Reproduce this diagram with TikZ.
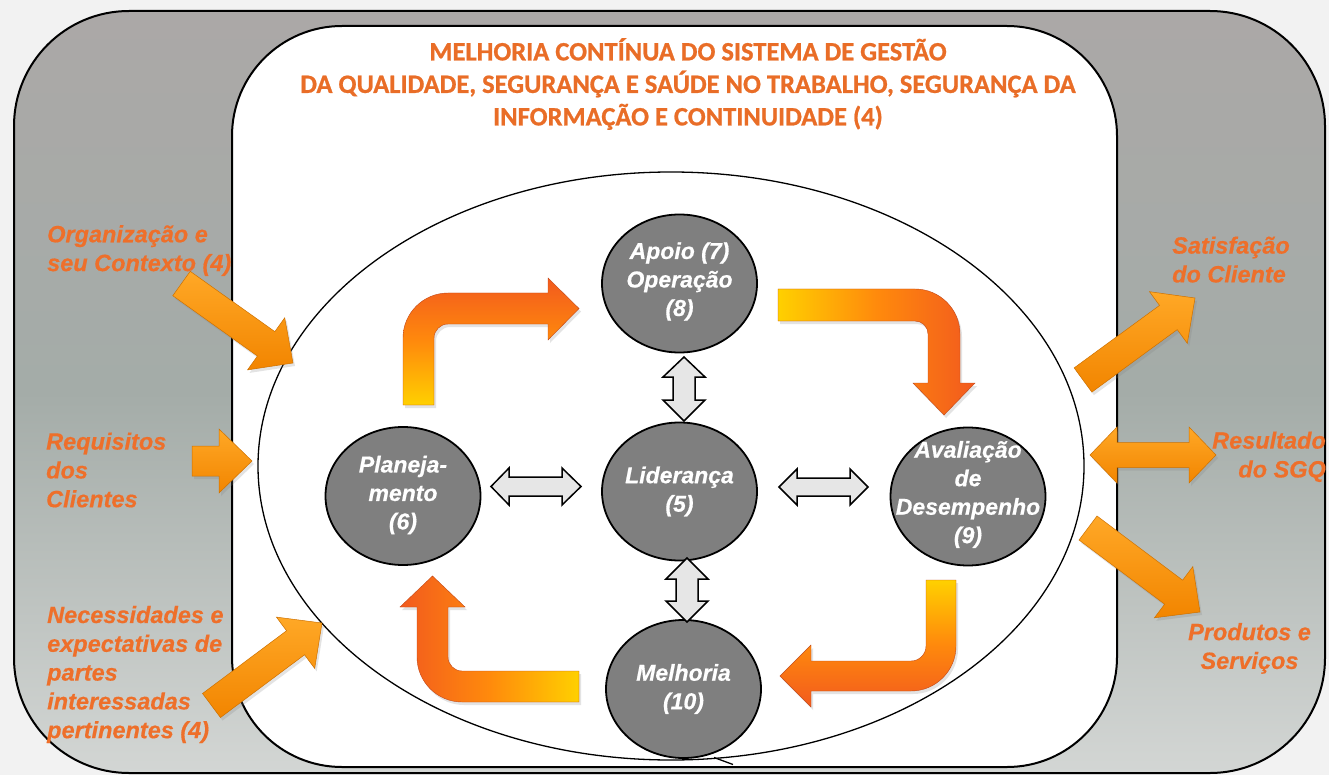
\documentclass[tikz,border=0pt]{standalone}
\usepackage{fontspec}
\setmainfont{Liberation Sans}
\newfontfamily\ttlfont{Carlito Bold}[FakeBold=0.8]
\newfontfamily\labfont{Liberation Sans Bold Italic}[FakeBold=0.5]
\usetikzlibrary{shapes.geometric,shadows,calc}
\definecolor{bgc}{HTML}{F2F2F2}
\definecolor{frTop}{HTML}{ABA8A7}
\definecolor{frMid}{HTML}{A4ACA8}
\definecolor{frBot}{HTML}{D3D6D4}
\definecolor{lab}{HTML}{EE6F2A}
\definecolor{ttl}{HTML}{E96D27}
\definecolor{bub}{HTML}{7F7F7F}
\definecolor{byel}{HTML}{FFD000}
\definecolor{borg}{HTML}{FF8A0C}
\definecolor{bred}{HTML}{F25A1E}
\definecolor{sorgT}{HTML}{FFA826}
\definecolor{sorgB}{HTML}{F28500}
\definecolor{gar}{HTML}{E6E6E6}
\tikzset{
  bubble/.style={ellipse, draw=black, line width=1.8pt, fill=bub, minimum width=155pt, minimum height=138pt, inner sep=0pt},
  bubtext/.style={text=white, font=\labfont\fontsize{23}{28.5}\selectfont, align=center, inner sep=0pt},
  lbl/.style={text=lab, font=\labfont\fontsize{23.5}{28.8}\selectfont, inner sep=0pt},
  grayarr/.style={fill=gar, draw=black, line width=1.5pt, line join=miter},
  shad/.style={drop shadow={opacity=0.22, shadow xshift=2pt, shadow yshift=-3pt}},
  orangearr/.style={shad, top color=sorgT, bottom color=sorgB, draw=sorgB!85!black, line width=0.5pt, line join=miter},
  bentarr/.style={shad, draw=bred!80!black, line width=0.4pt, line join=miter},
}
\newcommand\blockarrow[2]{%
  \shade[orangearr] let \p1=(#1), \p2=(#2), \n1={atan2(\y2-\y1,\x2-\x1)}, \n2={veclen(\x2-\x1,\y2-\y1)} in
   [shift={(\p1)}, rotate=\n1] (0,-15) -- (\n2-33,-15) -- (\n2-33,-32) -- (\n2,0) -- (\n2-33,32) -- (\n2-33,15) -- (0,15) -- cycle;}
\begin{document}
\begin{tikzpicture}[x=1pt,y=-1pt]
\useasboundingbox (0,0) rectangle (1329,775);
\fill[bgc] (0,0) rectangle (1329,775);
% outer frame
\shade[top color=frTop, bottom color=frBot, middle color=frMid, draw=black, line width=2pt, rounded corners=115pt] (14,11) rectangle (1325,773);
% inner white frame
\draw[fill=white, line width=2pt, rounded corners=110pt] (232,26) rectangle (1117,767);
% title
\node[font=\ttlfont\fontsize{26.5}{32.5}\selectfont, text=ttl, align=center, inner sep=0pt] (title) at (688,84)
 {MELHORIA CONTÍNUA DO SISTEMA DE GESTÃO\\DA QUALIDADE, SEGURANÇA E SAÚDE NO TRABALHO, SEGURANÇA DA\\INFORMAÇÃO E CONTINUIDADE (4)};
% big ellipse
\draw[line width=1.3pt] (671,466) ellipse [x radius=413, y radius=294];
\coordinate (etip) at (714,757.5);
\coordinate (earm) at (733,764.5);
\draw[line width=1.3pt] (etip) -- (earm);
% bubbles
\node[bubble] (apoio) at (679.5,283.5) {};
\node[bubble] (lider) at (679.5,491.5) {};
\node[bubble] (plan) at (403,496) {};
\node[bubble] (aval) at (968,496.5) {};
\node[bubble] (melh) at (683.5,689) {};
\node[bubtext] (apoioT) at ([yshift=2]apoio.center) {Apoio (7)\\Operação\\(8)};
\node[bubtext] (liderT) at (lider) {Liderança\\(5)};
\node[bubtext] (planT) at ([yshift=1]plan.center) {Planeja-\\mento\\(6)};
\node[bubtext] (avalT) at ([yshift=2]aval.center) {Avaliação\\de\\Desempenho\\(9)};
\node[bubtext] (melhT) at (melh) {Melhoria\\(10)};
% gray double arrows
\draw[grayarr] (491,486.5) -- (509,468) -- (509,477) -- (562,477) -- (562,468) -- (581,486.5) -- (562,505) -- (562,496) -- (509,496) -- (509,505) -- cycle;
\draw[grayarr] (779,487) -- (797,469) -- (797,478) -- (850,478) -- (850,469) -- (868,487) -- (850,505) -- (850,496) -- (797,496) -- (797,505) -- cycle;
\draw[grayarr] (684,357) -- (705,377) -- (695,377) -- (695,400) -- (705,400) -- (684,421) -- (663,400) -- (673,400) -- (673,377) -- (663,377) -- cycle;
\draw[grayarr] (687,558) -- (708,579) -- (698,579) -- (698,601) -- (708,601) -- (687,622) -- (666,601) -- (676,601) -- (676,579) -- (666,579) -- cycle;
% bent orange arrows
\shade[bentarr, top color=bred, bottom color=byel, middle color=borg]
 (403,405) -- (403,338) .. controls (403,313.2) and (423.2,293) .. (448,293) -- (548,293) -- (548,278) -- (579,308.5) -- (548,340) -- (548,324) -- (448,324) .. controls (440.3,324) and (434,330.3) .. (434,338) -- (434,405) -- cycle;
\shade[bentarr, left color=byel, right color=bred, middle color=borg]
 (778,289) -- (915,289) .. controls (939.8,289) and (960,309.2) .. (960,334) -- (960,383) -- (975,383) -- (944,415) -- (913,383) -- (928,383) -- (928,334) .. controls (928,326.8) and (922.2,321) .. (915,321) -- (778,321) -- cycle;
\shade[bentarr, top color=byel, bottom color=bred, middle color=borg]
 (926,580) -- (956,580) -- (956,646) .. controls (956,670.8) and (935.8,691) .. (911,691) -- (811,691) -- (811,707) -- (780,676) -- (811,645) -- (811,661) -- (911,661) .. controls (919.3,661) and (926,654.3) .. (926,646) -- cycle;
\shade[bentarr, left color=bred, right color=byel, middle color=borg]
 (579,702) -- (462,702) .. controls (437.2,702) and (417,681.8) .. (417,657) -- (417,607) -- (400,607) -- (432.5,576) -- (465,607) -- (448,607) -- (448,657) .. controls (448,664.7) and (454.3,671) .. (462,671) -- (579,671) -- cycle;
% straight orange arrows
\coordinate (orgA) at (181.5,283.5); \coordinate (orgB) at (293,363);
\coordinate (reqA) at (192,461);     \coordinate (reqB) at (252,461);
\coordinate (necA) at (211.5,705.5); \coordinate (necB) at (322,623);
\coordinate (satA) at (1083,380);    \coordinate (satB) at (1195,298);
\coordinate (proA) at (1088,528);    \coordinate (proB) at (1200,612);
\blockarrow{orgA}{orgB}
\blockarrow{reqA}{reqB}
\blockarrow{necA}{necB}
\blockarrow{satA}{satB}
\blockarrow{proA}{proB}
\shade[orangearr] (1090,455) -- (1117,427) -- (1117,442.5) -- (1189,442.5) -- (1189,427) -- (1216,455) -- (1189,483) -- (1189,467.5) -- (1117,467.5) -- (1117,483) -- cycle;
% labels
\node[lbl, anchor=west, align=left] (org) at (47,250.6) {Organização e\\seu Contexto (4)};
\node[lbl, anchor=west, align=left] (req) at (46,470) {Requisitos\\dos\\Clientes};
\node[lbl, anchor=west, align=left] (nec) at (47,674.5) {Necessidades e\\expectativas de\\partes\\interessadas\\pertinentes (4)};
\node[lbl, anchor=west, align=left] (sat) at (1172,259.6) {Satisfação\\do Cliente};
\node[lbl, anchor=east, align=right] (res) at (1326,456.8) {Resultado\\do SGQ};
\node[lbl, align=center] (pro) at (1249.5,648.4) {Produtos e\\Serviços};
\end{tikzpicture}
\end{document}
